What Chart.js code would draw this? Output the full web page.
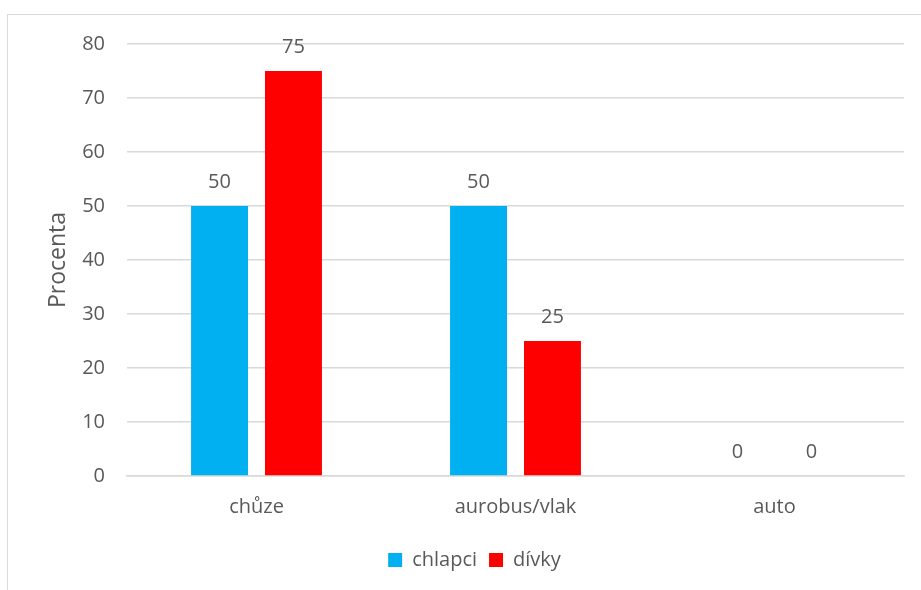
<!DOCTYPE html>
<html lang="cs">
<head>
<meta charset="utf-8">
<title>Doprava do školy</title>
<script src="https://cdn.jsdelivr.net/npm/chart.js@4"></script>
<style>
    html, body { margin: 0; padding: 0; background: #fff; overflow: hidden; }
    #wrap { position: relative; width: 921px; height: 590px; }
    #frame {
        position: absolute; left: 7px; top: 14px; width: 960px; height: 620px;
        border: 1px solid #d9d9d9; box-sizing: border-box;
    }
    #myChart { position: absolute; left: 0; top: 0; }
</style>
</head>
<body>
<div id="wrap">
    <div id="frame"></div>
    <canvas id="myChart" width="921" height="590"></canvas>
</div>
<script>
const categories = ['chůze', 'aurobus/vlak', 'auto'];
const chlapci = [50, 50, 0];
const divky = [75, 25, 0];
const yTicks = [0, 10, 20, 30, 40, 50, 60, 70, 80];

const textColor = '#595959';
const gridColor = '#d9d9d9';
const fontFamily = '"Open Sans", Lato, "Liberation Sans", sans-serif';

// writes the value above each bar
const valueLabels = {
    id: 'valueLabels',
    afterDatasetsDraw(chart) {
        const ctx = chart.ctx;
        ctx.save();
        ctx.fillStyle = textColor;
        ctx.font = '20px ' + fontFamily;
        ctx.textAlign = 'center';
        ctx.textBaseline = 'middle';
        chart.data.datasets.forEach((ds, i) => {
            chart.getDatasetMeta(i).data.forEach((bar, j) => {
                ctx.fillText(String(ds.data[j]), bar.x, bar.y - 24);
            });
        });
        ctx.restore();
    }
};

document.addEventListener('DOMContentLoaded', () => {
    const ctx = document.getElementById('myChart').getContext('2d');

    new Chart(ctx, {
        type: 'bar',
        data: {
            labels: categories,
            datasets: [{
                label: 'chlapci',
                data: chlapci,
                backgroundColor: '#00b0f0',
                categoryPercentage: 0.571,
                barPercentage: 0.77
            }, {
                label: 'dívky',
                data: divky,
                backgroundColor: '#ff0000',
                categoryPercentage: 0.571,
                barPercentage: 0.77
            }]
        },
        options: {
            responsive: false,
            animation: false,
            layout: { padding: { left: 45, right: 17, top: 44, bottom: 10 } },
            plugins: {
                tooltip: { enabled: false },
                legend: {
                    position: 'bottom',
                    labels: {
                        color: textColor,
                        font: { size: 20, family: fontFamily },
                        boxWidth: 14,
                        boxHeight: 14,
                        padding: 12
                    }
                }
            },
            scales: {
                x: {
                    grid: { display: false, drawTicks: false },
                    border: { color: gridColor, width: 1.5 },
                    ticks: {
                        color: textColor,
                        font: { size: 20, family: fontFamily },
                        padding: 19
                    },
                    afterFit(scale) { scale.height = 62; }
                },
                y: {
                    min: 0,
                    max: 80,
                    afterBuildTicks(scale) {
                        scale.ticks = yTicks.map(v => ({ value: v }));
                    },
                    grid: { color: gridColor, lineWidth: 1.5, drawTicks: false },
                    border: { display: false },
                    ticks: {
                        color: textColor,
                        font: { size: 20, family: fontFamily },
                        padding: 22
                    },
                    title: {
                        display: true,
                        text: 'Procenta',
                        color: textColor,
                        font: { size: 23, family: fontFamily },
                        padding: 0
                    },
                    afterFit(scale) { scale.width = 127 - 45; }
                }
            }
        },
        plugins: [valueLabels]
    });
});
</script>
</body>
</html>
